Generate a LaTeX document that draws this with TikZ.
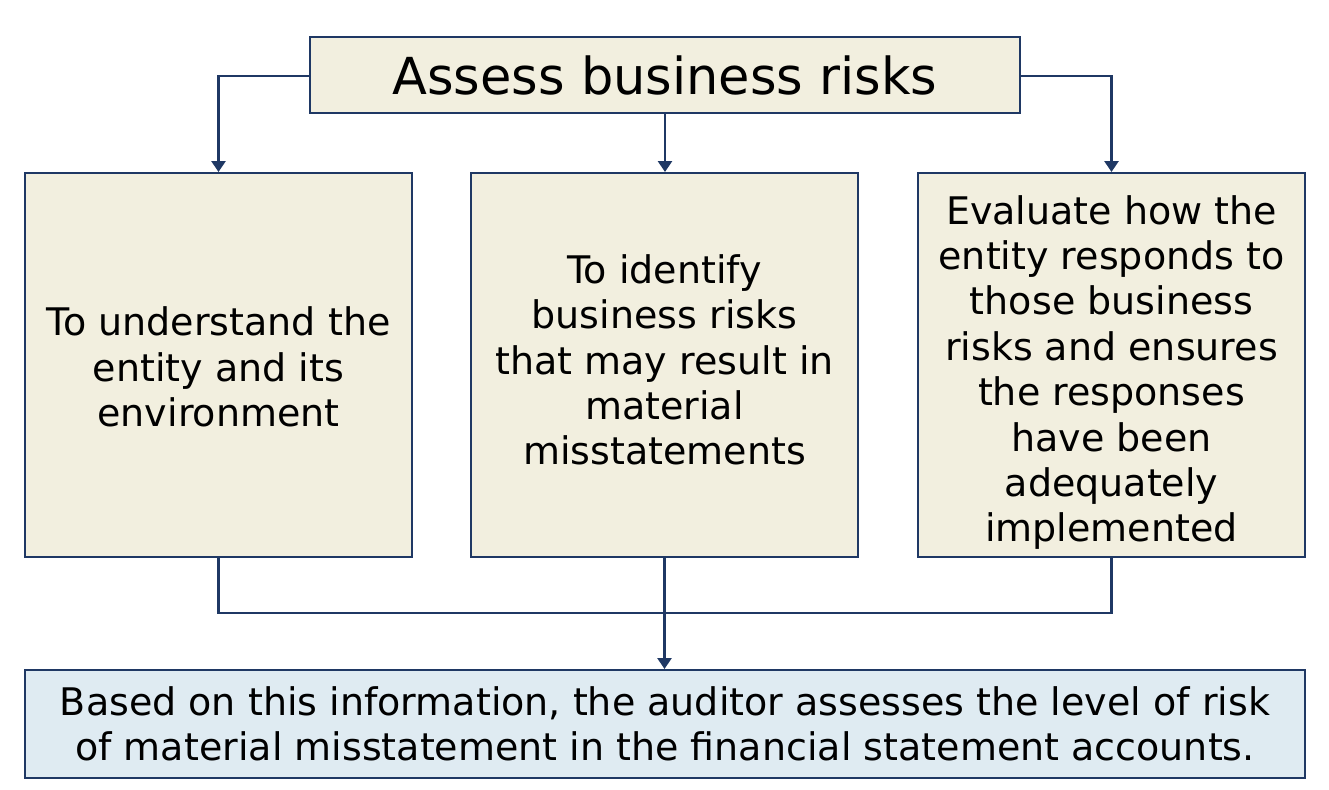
\documentclass[tikz,border=0pt]{standalone}
\usepackage{fontspec}
\setmainfont{DejaVu Sans}
\usetikzlibrary{arrows.meta}
\definecolor{lineblue}{RGB}{31,56,100}
\definecolor{beige}{RGB}{242,239,223}
\definecolor{lightblue}{RGB}{223,235,242}
\begin{document}
\begin{tikzpicture}[x=1pt,y=-1pt,
  box/.style={draw=lineblue,line width=2pt,fill=beige,inner sep=0pt,align=center},
  conn/.style={draw=lineblue,line width=2.8pt},
  arr/.style={conn,-{Triangle[width=14pt,length=11pt]}},
  bodytext/.style={font=\fontsize{38}{45.4}\selectfont}]
\useasboundingbox (0,0) rectangle (1329,789);
\node[box,minimum width=710pt,minimum height=76pt,font=\fontsize{51}{60}\selectfont] (top) at (665,75) {Assess business risks};
\node[box,bodytext,minimum width=387pt,minimum height=384pt] (b1) at (218.5,365) {\begin{tabular}{@{}c@{}}\rule{0pt}{45.8pt}To understand the\\entity and its\\environment\end{tabular}};
\node[box,bodytext,minimum width=387pt,minimum height=384pt] (b2) at (664.5,365) {\begin{tabular}{@{}c@{}}To identify\\business risks\\that may result in\\material\\misstatements\end{tabular}};
\node[box,bodytext,minimum width=387pt,minimum height=384pt] (b3) at (1111.5,365) {\begin{tabular}{@{}c@{}}\rule{0pt}{49.8pt}Evaluate how the\\entity responds to\\those business\\risks and ensures\\the responses\\have been\\adequately\\implemented\end{tabular}};
\node[box,bodytext,fill=lightblue,minimum width=1280pt,minimum height=108pt] (bot) at (665,724) {Based on this information, the auditor assesses the level of risk\\of material misstatement in the financial statement accounts.};
\coordinate (j) at (665,613);
\draw[arr] (top.west |- 0,76) -| (b1.north);
\draw[arr] (top.east |- 0,76) -| (b3.north);
\draw[arr] (top.south) -- (top.south |- b2.north);
\draw[conn] (b1.south) |- (j) -| (b3.south);
\draw[arr] (b2.south) -- (b2.south |- bot.north);
\end{tikzpicture}
\end{document}
